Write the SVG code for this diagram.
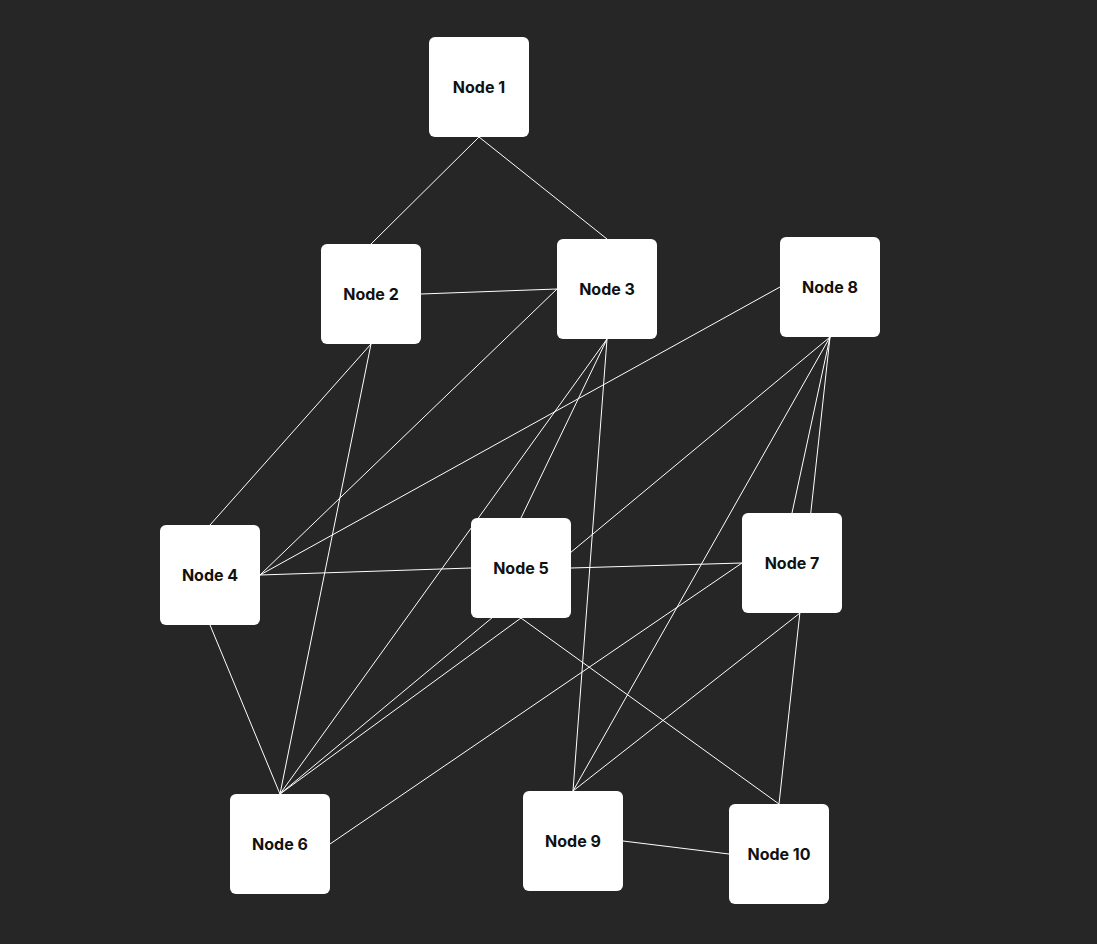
<svg xmlns="http://www.w3.org/2000/svg" width="1097" height="944" viewBox="0 0 1097 944">
<style>
.n rect{fill:#fff;rx:6px}
.n text{font-family:Inter,"Liberation Sans",sans-serif;font-weight:bold;font-size:16px;fill:#111;text-anchor:middle;dominant-baseline:central}
#edges line{stroke:#fff;stroke-width:1}
</style>
<rect width="1097" height="944" fill="#262626"/>
<g id="edges">
<line x1="479" y1="137" x2="371" y2="244"/>
<line x1="479" y1="137" x2="607" y2="239"/>
<line x1="421" y1="294" x2="557" y2="289"/>
<line x1="371" y1="344" x2="210" y2="525"/>
<line x1="371" y1="344" x2="280" y2="794"/>
<line x1="557" y1="289" x2="260" y2="575"/>
<line x1="780" y1="287" x2="260" y2="575"/>
<line x1="260" y1="575" x2="471" y2="568"/>
<line x1="571" y1="568" x2="742" y2="563"/>
<line x1="607" y1="339" x2="280" y2="794"/>
<line x1="607" y1="339" x2="521" y2="518"/>
<line x1="607" y1="339" x2="573" y2="791"/>
<line x1="830" y1="337" x2="280" y2="794"/>
<line x1="830" y1="337" x2="573" y2="791"/>
<line x1="830" y1="337" x2="792" y2="513"/>
<line x1="830" y1="337" x2="779" y2="804"/>
<line x1="210" y1="625" x2="280" y2="794"/>
<line x1="521" y1="618" x2="280" y2="794"/>
<line x1="742" y1="563" x2="330" y2="844"/>
<line x1="521" y1="618" x2="779" y2="804"/>
<line x1="800" y1="613" x2="573" y2="791"/>
<line x1="623" y1="841" x2="729" y2="854"/>
</g>
<g id="node1" class="n"><rect x="429" y="37" width="100" height="100"/><text x="479" y="87">Node 1</text></g>
<g id="node2" class="n"><rect x="321" y="244" width="100" height="100"/><text x="371" y="294">Node 2</text></g>
<g id="node3" class="n"><rect x="557" y="239" width="100" height="100"/><text x="607" y="289">Node 3</text></g>
<g id="node4" class="n"><rect x="160" y="525" width="100" height="100"/><text x="210" y="575">Node 4</text></g>
<g id="node5" class="n"><rect x="471" y="518" width="100" height="100"/><text x="521" y="568">Node 5</text></g>
<g id="node6" class="n"><rect x="230" y="794" width="100" height="100"/><text x="280" y="844">Node 6</text></g>
<g id="node7" class="n"><rect x="742" y="513" width="100" height="100"/><text x="792" y="563">Node 7</text></g>
<g id="node8" class="n"><rect x="780" y="237" width="100" height="100"/><text x="830" y="287">Node 8</text></g>
<g id="node9" class="n"><rect x="523" y="791" width="100" height="100"/><text x="573" y="841">Node 9</text></g>
<g id="node10" class="n"><rect x="729" y="804" width="100" height="100"/><text x="779" y="854">Node 10</text></g>
</svg>
